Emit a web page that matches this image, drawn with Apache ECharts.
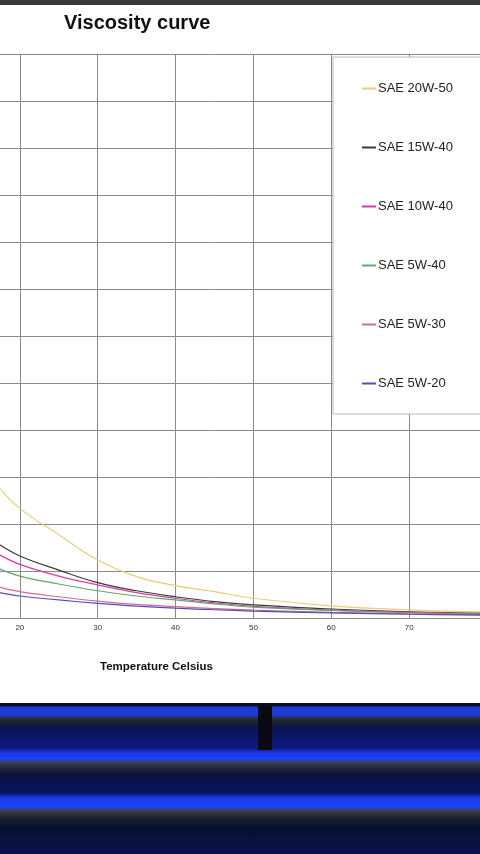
<!DOCTYPE html>
<html>
<head>
    <meta charset="utf-8">
    <title>Viscosity curve</title>
    <script src="https://cdn.jsdelivr.net/npm/echarts@6/dist/echarts.min.js"></script>
    <style type="text/css">
        html, body {
            margin: 0;
            padding: 0;
            width: 480px;
            height: 854px;
            overflow: hidden;
            background: #0a1250;
            position: relative;
        }
        .top_strip {
            position: absolute;
            left: 0; top: 0;
            width: 480px; height: 5px;
            background: #3a3a3a;
        }
        /* the chart is wider than the window: its left part is cropped off, as in the photo */
        #main {
            position: absolute;
            left: -58px; top: 5px;
            width: 545px; height: 698px;
            background: #fff;
        }
        .bench {
            position: absolute;
            left: 0; top: 703px;
            width: 480px; height: 151px;
            background: linear-gradient(to bottom,
                #0a0f2a 0px, #0a0f2a 3px, #1d3fd0 4px, #1a3ad8 12px,
                #2a2f3a 15px, #1c2230 19px, #0a1450 24px, #0c1a80 45px,
                #1838e0 50px, #1e44f0 56px, #3a3f4a 60px, #20263a 66px,
                #0a1040 72px, #0a1460 90px, #1a3be8 95px, #1f46f5 104px,
                #3a3f48 108px, #1a1f2e 116px, #081030 125px, #0a1250 151px);
        }
        .post {
            position: absolute;
            left: 258px; top: 705px;
            width: 14px; height: 45px;
            background: #0a0a14;
        }
    </style>
</head>
<body>
<div class="top_strip"></div>
<div id="main"></div>
<div class="bench"></div>
<div class="post"></div>

<script type="text/javascript">
    // temperature (Celsius) and viscosity per oil grade
    var temps = [17, 20, 25, 30, 35, 40, 45, 50, 60, 70, 80];
    var sae20w50 = [710, 583, 443, 308, 220, 172, 140, 105, 65, 43, 30];
    var sae15w40 = [400, 330, 255, 188, 145, 113, 87, 70, 48, 33, 25];
    var sae10w40 = [345, 285, 223, 176, 135, 105, 80, 62, 42, 30, 22];
    var sae5w40 = [268, 223, 181, 145, 117, 96, 75, 58, 40, 28, 21];
    var sae5w30 = [168, 140, 113, 90, 72, 60, 50, 42, 30, 22, 17];
    var sae5w20 = [138, 117, 96, 78, 63, 52, 44, 37, 27, 20, 15];

    var names = ['SAE 20W-50', 'SAE 15W-40', 'SAE 10W-40', 'SAE 5W-40', 'SAE 5W-30', 'SAE 5W-20'];
    var values = [sae20w50, sae15w40, sae10w40, sae5w40, sae5w30, sae5w20];
    var colors = ['#e9cd78', '#3a3a3a', '#d63ca4', '#5faa6c', '#d9688a', '#5050b8'];

    function pairs(v) {
        var out = [];
        for (var i = 0; i < temps.length; i++) {
            out.push([temps[i], v[i]]);
        }
        return out;
    }

    var series = [];
    for (var i = 0; i < names.length; i++) {
        series.push({
            name: names[i],
            type: 'line',
            smooth: 0.4,
            showSymbol: false,
            symbol: 'none',
            color: colors[i],
            lineStyle: { width: 1.2, color: colors[i] },
            data: pairs(values[i])
        });
    }

    var option = {
        animation: false,
        backgroundColor: '#fff',
        textStyle: { fontFamily: 'Liberation Sans, Arial, sans-serif' },
        title: {
            text: 'Viscosity curve',
            left: 117,
            top: 3,
            textStyle: { fontSize: 20, fontWeight: 'bold', color: '#111' }
        },
        grid: { left: 0, right: 0, top: 49, bottom: 85, outerBoundsMode: 'none', containLabel: false },
        legend: {
            orient: 'vertical',
            left: 391,
            top: 52,
            itemGap: 46,
            itemWidth: 14,
            itemHeight: 2,
            icon: 'rect',
            padding: [25, 80, 24, 29],
            backgroundColor: '#fff',
            borderColor: '#b8b8b8',
            borderWidth: 1,
            selectedMode: false,
            textStyle: { fontSize: 13, color: '#222', padding: [0, 0, 0, -3] },
            data: names
        },
        xAxis: {
            type: 'value',
            min: 10,
            max: 80,
            interval: 10,
            axisLine: { show: true, lineStyle: { color: '#8a8a8a' } },
            axisTick: { show: false },
            axisLabel: { fontSize: 8, color: '#333', margin: 6 },
            splitLine: { show: true, lineStyle: { color: '#8a8a8a', width: 1 } }
        },
        yAxis: {
            type: 'value',
            min: 0,
            max: 3000,
            interval: 250,
            axisLine: { show: false },
            axisTick: { show: false },
            axisLabel: { show: false },
            splitLine: { show: true, lineStyle: { color: '#8a8a8a', width: 1 } }
        },
        graphic: [{
            type: 'text',
            left: 158,
            top: 656,
            style: {
                text: 'Temperature Celsius',
                font: 'bold 11.5px Liberation Sans, Arial, sans-serif',
                fill: '#111'
            }
        }],
        series: series
    };

    var myChart = echarts.init(document.getElementById('main'));
    myChart.setOption(option);
</script>
</body>
</html>
